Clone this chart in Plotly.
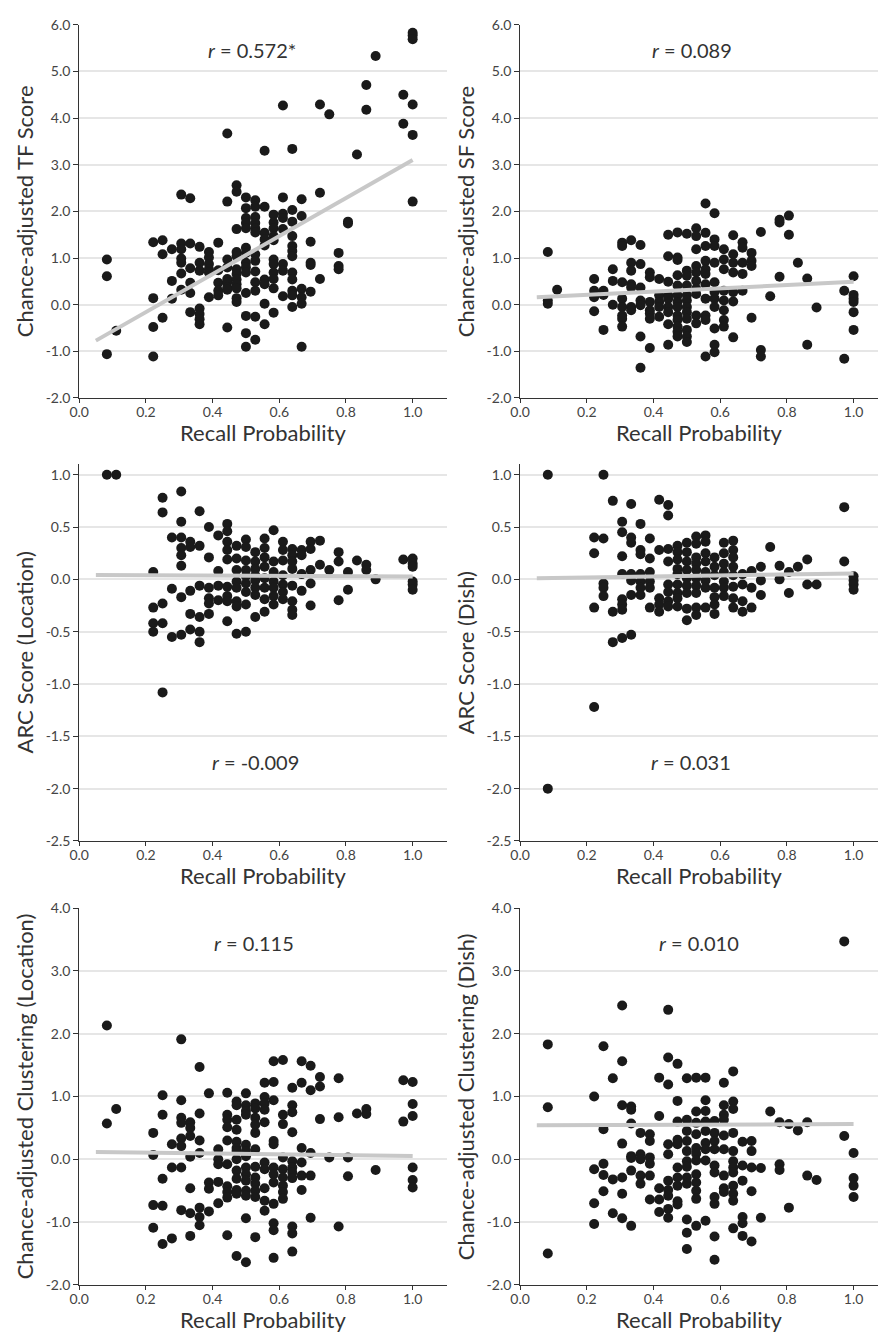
import plotly.graph_objects as go

# ---------------- data ----------------
tf_score = {
    0.083: [0.97, 0.61, -1.06], 0.111: [-0.56],
    0.222: [1.34, 0.14, -0.48, -1.11], 0.25: [1.38, 1.08, -0.28], 0.278: [1.19, 0.51, 0.13],
    0.306: [2.36, 1.31, 1.19, 0.99, 0.90, 0.67, 0.32], 0.333: [2.28, 1.31, 0.78, 0.47, 0.25, -0.16],
    0.361: [1.24, 0.90, 0.73, -0.08, -0.20, -0.31, -0.42], 0.389: [1.13, 1.01, 0.87, 0.76, 0.69, 0.16],
    0.417: [1.33, 0.74, 0.47, 0.30, 0.20], 0.444: [3.67, 2.21, 0.97, 0.80, 0.55, 0.48, 0.37, 0.32, -0.49],
    0.472: [2.56, 2.42, 1.62, 1.13, 1.04, 0.76, 0.66, 0.54, 0.44, 0.35, 0.14, 0.06],
    0.5: [2.30, 2.07, 1.86, 1.75, 1.64, 1.22, 1.11, 0.90, 0.80, 0.69, 0.25, -0.24, -0.61, -0.90],
    0.528: [2.24, 2.10, 1.88, 1.75, 1.64, 1.55, 1.08, 0.94, 0.71, 0.48, 0.30, -0.26, -0.75],
    0.556: [3.30, 2.10, 1.54, 1.40, 1.27, 0.54, 0.44, 0.02, -0.42],
    0.583: [1.93, 1.76, 1.64, 1.47, 1.38, 0.97, 0.87, 0.69, 0.55, 0.35, -0.17],
    0.611: [4.27, 2.30, 1.95, 1.86, 1.62, 0.87, 0.73, 0.18],
    0.639: [3.34, 2.03, 1.78, 1.47, 1.26, 1.15, 1.04, 0.69, 0.54, 0.30, 0.20, -0.05],
    0.667: [2.26, 1.90, 0.34, 0.16, 0.02, -0.90], 0.694: [1.35, 0.90, 0.85, 0.28],
    0.722: [4.29, 2.40, 0.55], 0.75: [4.08], 0.778: [1.11, 0.83, 0.76], 0.806: [1.78, 1.74],
    0.833: [3.22], 0.861: [4.71, 4.18], 0.889: [5.33], 0.972: [4.50, 3.88],
    1.0: [5.83, 5.77, 5.69, 4.29, 3.64, 2.21],
}

sf_score = {
    0.083: [1.13, 0.09, 0.02], 0.111: [0.32],
    0.222: [0.55, 0.30, 0.16, -0.14], 0.25: [0.30, 0.21, -0.54], 0.278: [0.76, 0.51, 0.0],
    0.306: [1.33, 1.26, 0.48, 0.13, -0.05, -0.23, -0.30, -0.47],
    0.333: [1.38, 0.90, 0.73, 0.44, 0.37, -0.05, -0.12],
    0.361: [1.28, 0.87, 0.37, 0.09, -0.01, -0.68, -1.35],
    0.389: [0.69, 0.59, 0.06, -0.12, -0.19, -0.30, -0.93],
    0.417: [0.55, 0.20, 0.06, -0.05, -0.26],
    0.444: [1.50, 1.04, 0.49, 0.20, 0.13, -0.05, -0.16, -0.42, -0.86],
    0.472: [1.55, 1.01, 0.96, 0.63, 0.41, 0.20, 0.06, -0.05, -0.23, -0.33, -0.47, -0.58, -0.68],
    0.5: [1.52, 0.73, 0.62, 0.41, 0.20, 0.09, -0.05, -0.16, -0.30, -0.54, -0.68, -0.80],
    0.528: [1.64, 1.47, 1.19, 0.83, 0.69, 0.51, 0.34, 0.23, -0.23, -0.40],
    0.556: [2.17, 1.54, 1.26, 0.94, 0.76, 0.66, 0.44, 0.13, -0.23, -0.33, -1.11],
    0.583: [1.96, 1.40, 1.26, 0.90, 0.48, 0.27, 0.13, -0.05, -0.51, -0.86, -1.02],
    0.611: [1.19, 0.97, 0.76, 0.30, 0.09, -0.12, -0.33, -0.47],
    0.639: [1.49, 1.08, 0.90, 0.69, 0.27, 0.07, -0.70],
    0.667: [1.34, 1.22, 0.90, 0.66, 0.30], 0.694: [1.11, 0.94, 0.83, -0.28],
    0.722: [1.56, -0.97, -1.11], 0.75: [0.18], 0.778: [1.82, 1.76, 0.60], 0.806: [1.91, 1.50],
    0.833: [0.90], 0.861: [0.56, -0.86], 0.889: [-0.06], 0.972: [0.30, -1.16],
    1.0: [0.61, 0.21, 0.13, 0.06, -0.16, -0.54],
}

arc_location = {
    0.083: [1.0], 0.111: [1.0],
    0.222: [0.07, -0.27, -0.42, -0.50], 0.25: [0.78, 0.64, -0.23, -0.42, -1.08], 0.278: [0.40, -0.09, -0.55],
    0.306: [0.84, 0.55, 0.40, 0.30, 0.23, 0.13, -0.17, -0.53],
    0.333: [0.36, 0.31, -0.11, -0.33, -0.48],
    0.361: [0.65, 0.32, -0.06, -0.36, -0.50, -0.60],
    0.389: [0.50, 0.21, -0.08, -0.18, -0.23, -0.33],
    0.417: [0.42, 0.08, -0.06, -0.20],
    0.444: [0.53, 0.46, 0.36, 0.28, 0.19, -0.07, -0.16, -0.21, -0.40],
    0.472: [0.32, 0.20, 0.09, -0.02, -0.08, -0.21, -0.26, -0.52],
    0.5: [0.38, 0.31, 0.18, 0.09, 0.03, -0.04, -0.12, -0.24, -0.50],
    0.528: [0.26, 0.17, 0.10, 0.04, -0.01, -0.08, -0.15, -0.36],
    0.556: [0.39, 0.30, 0.21, 0.12, 0.01, -0.08, -0.19, -0.31],
    0.583: [0.47, 0.17, 0.07, -0.02, -0.08, -0.16, -0.24],
    0.611: [0.36, 0.28, 0.18, 0.04, -0.05, -0.12, -0.19],
    0.639: [0.29, 0.23, 0.17, 0.10, -0.06, -0.21, -0.29, -0.34],
    0.667: [0.28, 0.23, 0.05, -0.11], 0.694: [0.36, 0.29, 0.09, -0.04, -0.25],
    0.722: [0.37, 0.14], 0.75: [0.09], 0.778: [0.26, 0.17, -0.20], 0.806: [0.07, -0.10],
    0.833: [0.18], 0.861: [0.14, 0.09], 0.889: [0.0], 0.972: [0.19],
    1.0: [0.20, 0.15, 0.12, -0.02, -0.05, -0.10],
}

arc_dish = {
    0.083: [1.0, -2.0],
    0.222: [0.40, 0.25, -0.27, -1.22], 0.25: [1.0, 0.39, -0.04, -0.08, -0.16], 0.278: [0.75, -0.31, -0.60],
    0.306: [0.55, 0.45, 0.22, 0.05, -0.19, -0.24, -0.29, -0.56],
    0.333: [0.72, 0.40, 0.35, 0.05, -0.01, -0.15, -0.53],
    0.361: [0.53, 0.28, 0.24, 0.05, -0.02, -0.08, -0.15],
    0.389: [0.39, 0.20, 0.07, -0.02, -0.08, -0.27],
    0.417: [0.76, 0.28, -0.18, -0.24, -0.31],
    0.444: [0.71, 0.61, 0.29, 0.17, -0.05, -0.12, -0.21, -0.26],
    0.472: [0.32, 0.26, 0.19, 0.10, 0.05, -0.05, -0.13, -0.18, -0.26],
    0.5: [0.35, 0.26, 0.17, 0.09, 0.01, -0.06, -0.13, -0.28, -0.39],
    0.528: [0.41, 0.34, 0.21, 0.15, 0.09, 0.01, -0.06, -0.13, -0.27, -0.34],
    0.556: [0.42, 0.36, 0.25, 0.17, 0.07, -0.01, -0.08, -0.27],
    0.583: [0.21, 0.12, 0.04, -0.08, -0.17, -0.24, -0.33],
    0.611: [0.35, 0.25, 0.15, 0.07, -0.02, -0.08, -0.16],
    0.639: [0.37, 0.28, 0.21, 0.12, 0.04, -0.07, -0.18, -0.27],
    0.667: [0.05, -0.05, -0.21, -0.31], 0.694: [0.08, -0.08, -0.27],
    0.722: [0.12, -0.01, -0.15], 0.75: [0.31], 0.778: [0.13, 0.0], 0.806: [0.07, -0.13],
    0.833: [0.12], 0.861: [0.19, -0.05], 0.889: [-0.05], 0.972: [0.69, 0.17],
    1.0: [0.03, -0.01, -0.05, -0.10],
}

clus_location = {
    0.083: [2.13, 0.57], 0.111: [0.80],
    0.222: [0.42, 0.07, -0.73, -1.09], 0.25: [1.02, 0.71, -0.31, -0.74, -1.35], 0.278: [0.24, -0.13, -1.26],
    0.306: [1.91, 0.94, 0.66, 0.58, 0.33, 0.21, -0.13, -0.81],
    0.333: [0.59, 0.50, 0.37, 0.04, -0.46, -0.86, -1.22],
    0.361: [1.47, 0.73, 0.30, 0.10, -0.77, -0.92, -1.05],
    0.389: [1.05, -0.37, -0.47, -0.83],
    0.417: [0.16, 0.0, -0.08, -0.36, -0.70],
    0.444: [1.06, 0.71, 0.63, 0.51, 0.30, -0.08, -0.43, -0.52, -0.61, -1.21],
    0.472: [0.92, 0.86, 0.63, 0.47, 0.28, 0.18, 0.13, 0.0, -0.18, -0.31, -0.49, -0.55, -1.54],
    0.5: [1.05, 0.86, 0.77, 0.71, 0.23, 0.13, 0.05, -0.13, -0.24, -0.34, -0.50, -0.58, -0.94, -1.64],
    0.528: [0.89, 0.81, 0.66, 0.55, 0.42, 0.16, -0.12, -0.29, -0.39, -0.50, -0.60, -1.24],
    0.556: [1.22, 0.99, 0.89, 0.79, 0.59, -0.05, -0.16, -0.46, -0.66, -0.82],
    0.583: [1.56, 1.23, 0.94, 0.29, 0.24, -0.13, -0.24, -0.37, -0.71, -1.02, -1.13, -1.57],
    0.611: [1.58, 0.71, 0.56, 0.03, -0.16, -0.29, -0.42, -0.52, -0.63],
    0.639: [1.14, 0.86, 0.75, 0.43, -0.03, -0.13, -0.21, -0.30, -1.07, -1.18, -1.47],
    0.667: [1.56, 1.22, 0.18, -0.05, -0.26, -0.49], 0.694: [1.49, 1.10, 0.10, -0.26, -0.93],
    0.722: [1.31, 1.16, 0.64], 0.75: [0.03], 0.778: [1.29, 0.67, -1.07], 0.806: [0.03, -0.27],
    0.833: [0.73], 0.861: [0.80, 0.72], 0.889: [-0.17], 0.972: [1.26, 0.60],
    1.0: [1.23, 0.88, 0.69, -0.13, -0.33, -0.45],
}

clus_dish = {
    0.083: [1.83, 0.83, -1.50],
    0.222: [1.00, -0.16, -0.70, -1.03], 0.25: [1.80, 0.48, -0.07, -0.25, -0.51], 0.278: [1.29, -0.32, -0.86],
    0.306: [2.45, 1.56, 0.86, 0.25, -0.29, -0.55, -0.94],
    0.333: [0.84, 0.79, 0.57, 0.05, 0.02, -0.18, -1.06],
    0.361: [0.42, 0.08, 0.0, -0.26, -0.39],
    0.389: [0.40, 0.29, 0.03, -0.07, -0.26, -0.64],
    0.417: [1.30, 0.69, -0.46, -0.64, -0.84],
    0.444: [2.38, 1.62, 1.19, 0.24, 0.08, -0.34, -0.49, -0.58, -0.79, -0.93],
    0.472: [1.52, 0.93, 0.60, 0.31, 0.24, -0.13, -0.29, -0.42, -0.67, -0.72],
    0.5: [1.29, 0.63, 0.45, 0.29, 0.13, -0.03, -0.12, -0.29, -0.39, -0.96, -1.17, -1.43],
    0.528: [1.30, 0.76, 0.58, 0.40, 0.18, 0.09, -0.02, -0.24, -0.37, -0.50, -0.63, -1.06],
    0.556: [1.30, 0.94, 0.77, 0.60, 0.45, 0.26, 0.16, -0.02, -0.98],
    0.583: [0.61, 0.42, 0.29, 0.16, -0.10, -0.21, -0.60, -0.71, -1.23, -1.60],
    0.611: [1.22, 0.86, 0.71, 0.63, 0.38, 0.16, -0.26, -0.46, -0.52],
    0.639: [1.40, 0.92, 0.80, 0.42, 0.13, -0.03, -0.13, -0.21, -0.42, -0.55, -0.66, -1.10],
    0.667: [0.28, -0.10, -0.34, -0.92, -1.02, -1.22], 0.694: [0.29, 0.13, -0.13, -0.51, -1.31],
    0.722: [-0.14, -0.93], 0.75: [0.76], 0.778: [0.59, -0.08, -0.17], 0.806: [0.56, -0.77],
    0.833: [0.46], 0.861: [0.59, -0.26], 0.889: [-0.33], 0.972: [3.47, 0.37],
    1.0: [0.10, -0.30, -0.42, -0.60],
}

panel_data = [tf_score, sf_score, arc_location, arc_dish, clus_location, clus_dish]
y_titles = ["Chance-adjusted TF Score", "Chance-adjusted SF Score",
            "ARC Score (Location)", "ARC Score (Dish)",
            "Chance-adjusted Clustering (Location)", "Chance-adjusted Clustering (Dish)"]
r_labels = ["0.572*", "0.089", "-0.009", "0.031", "0.115", "0.010"]
# regression line: intercept and slope
fit_intercept = [-0.974, 0.143, 0.0417, 0.0075, 0.118, 0.539]
fit_slope = [4.074, 0.347, -0.0137, 0.0495, -0.0663, 0.021]
fit_x = [0.05, 1.0]
x_title = "Recall Probability"
x_ticks = [0.0, 0.2, 0.4, 0.6, 0.8, 1.0]
y_ticks = [
    [-2.0, -1.0, 0.0, 1.0, 2.0, 3.0, 4.0, 5.0, 6.0],
    [-2.0, -1.0, 0.0, 1.0, 2.0, 3.0, 4.0, 5.0, 6.0],
    [-2.5, -2.0, -1.5, -1.0, -0.5, 0.0, 0.5, 1.0],
    [-2.5, -2.0, -1.5, -1.0, -0.5, 0.0, 0.5, 1.0],
    [-2.0, -1.0, 0.0, 1.0, 2.0, 3.0, 4.0],
    [-2.0, -1.0, 0.0, 1.0, 2.0, 3.0, 4.0],
]
y_ranges = [[-2, 6], [-2, 6], [-2.5, 1.1], [-2.5, 1.1], [-2, 4], [-2, 4]]
r_pos = [(0.519, 5.46), (0.516, 5.46), (0.528, -1.75), (0.511, -1.75), (0.524, 3.445), (0.536, 3.445)]

# ---------------- layout geometry ----------------
W, H = 878, 1337
FONT = "Lato"
col_px = [(70, 442), (516, 878)]
row_px = [(16, 394), (461.1, 842.7), (910.7, 1292.3)]
ytitle_px = [15, 461]
x_max = [(442 - 70) / 337.3, (878 - 516) / 337.3]

fig = go.Figure()
layout = dict(
    width=W, height=H, margin=dict(l=0, r=0, t=0, b=0),
    paper_bgcolor="white", plot_bgcolor="white", showlegend=False,
    font=dict(family=FONT, color="#333333"),
)
annotations = []

for i, data in enumerate(panel_data):
    r, c = divmod(i, 2)
    sfx = "" if i == 0 else str(i + 1)
    xs, ys = [], []
    for xv, yl in data.items():
        for yv in yl:
            xs.append(xv)
            ys.append(yv)
    fig.add_trace(go.Scatter(
        x=xs, y=ys, mode="markers", xaxis="x" + sfx, yaxis="y" + sfx,
        marker=dict(size=10, color="#1a1a1a", line=dict(width=0)),
    ))
    fig.add_trace(go.Scatter(
        x=fit_x, y=[fit_intercept[i] + fit_slope[i] * xv for xv in fit_x],
        mode="lines", xaxis="x" + sfx, yaxis="y" + sfx,
        line=dict(color="#c8c8c8", width=4),
    ))
    x0, x1 = col_px[c]
    y0, y1 = row_px[r]
    layout["xaxis" + sfx] = dict(
        domain=[x0 / W, x1 / W], range=[0, x_max[c]], anchor="y" + sfx,
        tickvals=x_ticks, ticktext=[f"{v:.1f}" for v in x_ticks],
        showgrid=False, zeroline=False, showline=True, linecolor="#333333", linewidth=1,
        ticks="outside", ticklen=4, tickcolor="#333333", tickwidth=1,
        tickfont=dict(family=FONT, size=14, color="#444444"), ticklabelstandoff=-3,
    )
    layout["yaxis" + sfx] = dict(
        domain=[1 - y1 / H, 1 - y0 / H], range=y_ranges[i], anchor="x" + sfx,
        tickvals=y_ticks[i], ticktext=[f"{v:.1f}" for v in y_ticks[i]],
        showgrid=True, gridcolor="#e6e6e6", gridwidth=1.5, zeroline=False,
        showline=True, linecolor="#333333", linewidth=1,
        ticks="outside", ticklen=5, tickcolor="#333333", tickwidth=1,
        tickfont=dict(family=FONT, size=14, color="#444444"),
    )
    annotations.append(dict(
        x=r_pos[i][0], y=r_pos[i][1], xref="x" + sfx, yref="y" + sfx,
        text=f"<i>r</i> = {r_labels[i]}", showarrow=False,
        font=dict(family=FONT, size=20, color="#333333"),
    ))
    annotations.append(dict(
        x=0.5, y=0, xref="x" + sfx + " domain", yref="y" + sfx + " domain",
        text=x_title, showarrow=False, xanchor="center", yanchor="middle", yshift=-35,
        font=dict(family=FONT, size=22, color="#333333"),
    ))
    annotations.append(dict(
        x=ytitle_px[c] / W, y=0.5, xref="paper", yref="y" + sfx + " domain",
        text=y_titles[i], showarrow=False, textangle=-90,
        xanchor="center", yanchor="middle",
        font=dict(family=FONT, size=22, color="#333333"),
    ))

layout["annotations"] = annotations
fig.update_layout(**layout)
fig.write_html("out.html")
